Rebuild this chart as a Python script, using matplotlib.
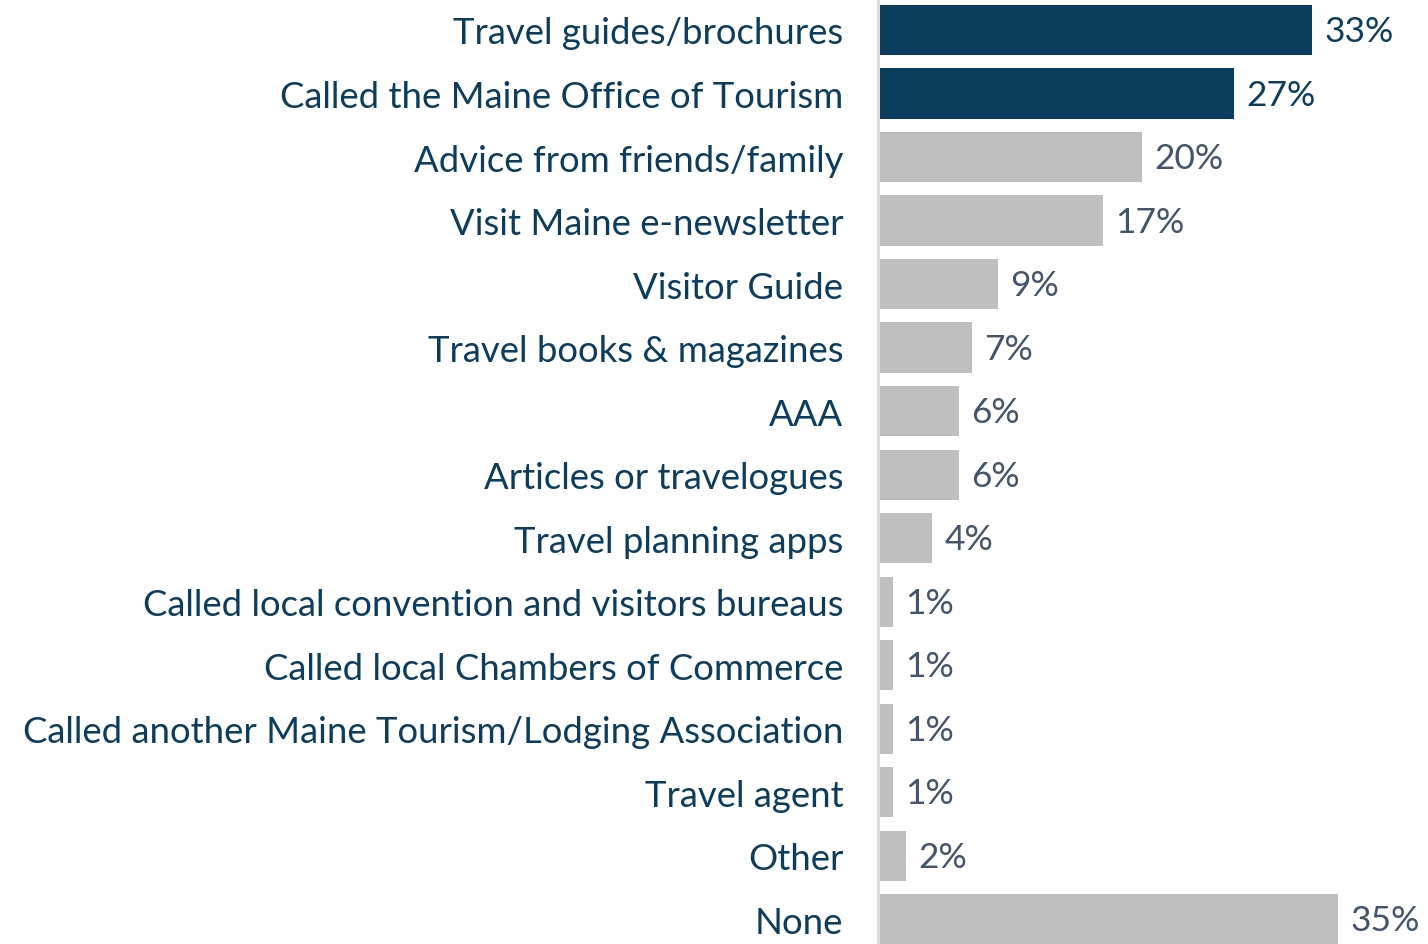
import matplotlib.pyplot as plt

labels = [
    'Travel guides/brochures',
    'Called the Maine Office of Tourism',
    'Advice from friends/family',
    'Visit Maine e-newsletter',
    'Visitor Guide',
    'Travel books & magazines',
    'AAA',
    'Articles or travelogues',
    'Travel planning apps',
    'Called local convention and visitors bureaus',
    'Called local Chambers of Commerce',
    'Called another Maine Tourism/Lodging Association',
    'Travel agent',
    'Other',
    'None',
]
values = [33, 27, 20, 17, 9, 7, 6, 6, 4, 1, 1, 1, 1, 2, 35]
highlight = [True, True] + [False] * 13

navy = '#0b3d5e'
gray = '#bfbfbf'
slate = '#44546a'

plt.rcParams['font.family'] = ['Lato', 'DejaVu Sans']

fig = plt.figure(figsize=(14.28, 9.45), dpi=100)
ax = fig.add_axes([878 / 1428, 0, 1 - 878 / 1428, 1])

ypos = list(range(len(values)))
colors = [navy if h else gray for h in highlight]
ax.barh(ypos, values, height=0.79, color=colors, left=0.15)

for y, v, h in zip(ypos, values, highlight):
    ax.text(v + 1.1, y + 0.02, f'{v}%', va='center', ha='left', fontsize=25.5,
            color=navy if h else slate)

ax.set_xlim(0, 42.0)
ax.set_ylim(14.39, -0.488)
ax.set_yticks(ypos)
ax.set_yticklabels(labels, fontsize=26.3, color=navy)
ax.tick_params(axis='y', length=0, pad=25)
ax.set_xticks([])
for s in ['top', 'right', 'bottom']:
    ax.spines[s].set_visible(False)
ax.spines['left'].set_color('#d9d9d9')
ax.spines['left'].set_linewidth(2)

fig.savefig('out.png', dpi=100)
